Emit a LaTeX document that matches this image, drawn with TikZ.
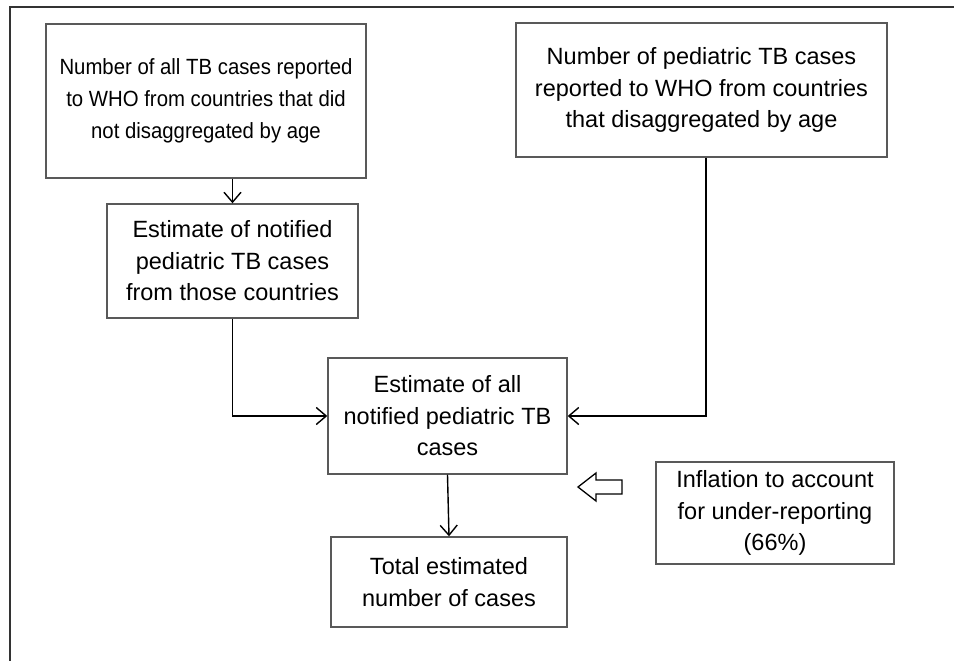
\documentclass[tikz,border=0pt]{standalone}
\usepackage{fontspec}
\setmainfont{Liberation Sans}
\newfontfamily\narrowsans[FakeStretch=0.925]{Liberation Sans}
\usetikzlibrary{arrows.meta}

\begin{document}
\begin{tikzpicture}[
    x=1pt, y=-1pt,
    stepbox/.style={draw=black!65, line width=1.4pt, align=center, inner sep=0pt,
        font=\fontsize{23.5}{31.5}\selectfont},
    flow/.style={draw=black, line width=1.4pt, -{Straight Barb[length=10pt,width=17pt]}},
    ]
    \useasboundingbox (0,0) rectangle (954,661);
    % frame, clipped at right and bottom
    \draw[black!80, line width=2pt] (10,661) -- (10,7.5) -- (954,7.5);

    \node[stepbox, minimum width=320, minimum height=154,
        font=\narrowsans\fontsize{22}{32}\selectfont] (allcases) at (206,101)
        {Number of all TB cases reported\\to WHO from countries that did\\not disaggregated by age};
    \node[stepbox, minimum width=371, minimum height=134] (pedcases) at (701.5,90)
        {Number of pediatric TB cases\\reported to WHO from countries\\that disaggregated by age};
    \node[stepbox, minimum width=251, minimum height=114] (estcountries) at (232.5,261)
        {Estimate of notified\\pediatric TB cases\\from those countries};
    \node[stepbox, minimum width=239, minimum height=116] (estall) at (447.5,416)
        {\raisebox{-4pt}{\parbox{230pt}{\centering Estimate of all\\notified pediatric TB\\cases}}};
    \node[stepbox, minimum width=236, minimum height=90] (total) at (449,582)
        {\raisebox{-3pt}{\parbox{230pt}{\centering Total estimated\\number of cases}}};
    \node[stepbox, minimum width=238, minimum height=102] (inflation) at (775,513)
        {\raisebox{-6pt}{\parbox{230pt}{\centering Inflation to account\\for under-reporting\\(66\%)}}};

    \draw[flow] (allcases.south -| estcountries.north) -- (estcountries.north);
    \draw[flow] (estcountries.south) |- (estall.west);
    \draw[flow] ([xshift=4.5pt]pedcases.south) |- (estall.east);
    \draw[flow] (estall.south) -- (total.north);

    % hollow arrow for the inflation step
    \draw[black, line width=1.3pt, fill=white]
        (578,487) -- (596,473) -- (596,480) -- (622,480) -- (622,494)
        -- (596,494) -- (596,501) -- cycle;
\end{tikzpicture}
\end{document}
